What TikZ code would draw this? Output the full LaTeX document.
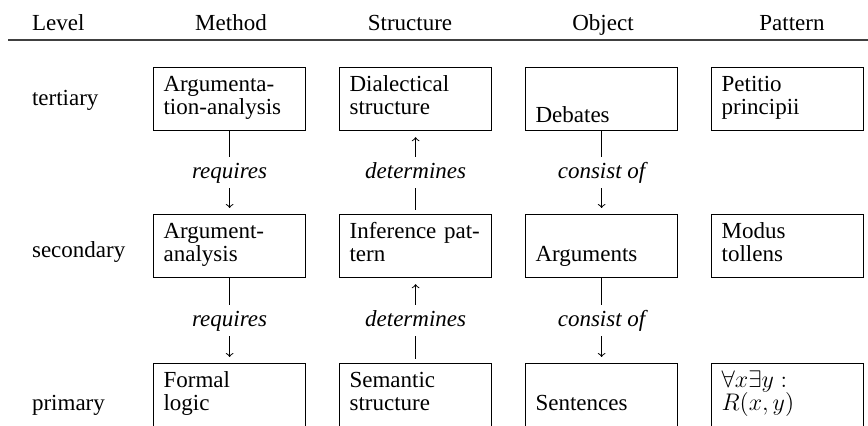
\documentclass[tikz,border=0pt]{standalone}
\usepackage{fontspec}
\setmainfont{Liberation Serif}

\tikzset{
  cell/.style={draw,line width=0.6pt,anchor=north west,inner xsep=5pt,inner ysep=0pt,
    text width=66pt,align=left,text height=12pt,text depth=19.5pt},
  cut/.style={cell,text depth=25pt},
  rel/.style={font=\fontsize{11.5}{11.5}\selectfont\itshape,inner sep=0pt,
    text height=10.5pt,text depth=5pt},
  link/.style={line width=0.5pt}
}

\begin{document}
\begin{tikzpicture}[x=0.5pt,y=-0.5pt,font=\fontsize{11.5}{11.5}\selectfont]
  \clip (0,0) rectangle (868,426);
  % header
  \node[anchor=base west] (hlevel) at (25,31) {Level};
  \node[anchor=base] (hmeth) at (231,31) {Method};
  \node[anchor=base] (hstruc) at (410,31) {Structure};
  \node[anchor=base] (hobj) at (603,31) {Object};
  \node[anchor=base] (hpat) at (792,31) {Pattern};
  \draw[line width=0.8pt,black!75] (8,40) -- (868,40);
  % levels
  \node[anchor=base west] (lev3) at (25,106) {tertiary};
  \node[anchor=base west] (lev2) at (25,258) {secondary};
  \node[anchor=base west] (lev1) at (25,411) {primary};
  % tertiary
  \node[cell] (meth3) at (153,67) {Argumenta-\\tion-analysis};
  \node[cell] (struc3) at (339,67) {Dialectical\\structure};
  \node[cell] (obj3) at (525,67) {\mbox{}\\[4pt]Debates};
  \node[cell] (pat3) at (711,67) {Petitio\\principii};
  % secondary
  \node[cell] (meth2) at (153,214) {Argument-\\analysis};
  \node[cell] (struc2) at (339,214) {Inference pat-\\tern};
  \node[cell] (obj2) at (525,214) {\mbox{}\\Arguments};
  \node[cell] (pat2) at (711,214) {Modus\\tollens};
  % primary
  \node[cut] (meth1) at (153,363) {Formal\\logic};
  \node[cut] (struc1) at (339,363) {Semantic\\structure};
  \node[cut] (obj1) at (525,363) {\mbox{}\\Sentences};
  \node[cut] (pat1) at (711,363) {$\forall x\exists y:$\\$R(x,y)$};
  % relations
  \foreach \u/\l in {3/2,2/1} {
    \path (meth\u.south) -- (meth\l.north) node[midway,rel] (req\u) {requires};
    \draw[link] (meth\u.south) -- (req\u.north);
    \draw[link,->,shorten >=3pt] (req\u.south) -- (meth\l.north);
    \path (struc\u.south) -- (struc\l.north) node[midway,rel] (det\u) {determines};
    \draw[link,shorten <=2pt] (struc\l.north) -- (det\u.south);
    \draw[link,->,shorten >=3pt] (det\u.north) -- (struc\u.south);
    \path (obj\u.south) -- (obj\l.north) node[midway,rel] (cons\u) {consist of};
    \draw[link] (obj\u.south) -- (cons\u.north);
    \draw[link,->,shorten >=3pt] (cons\u.south) -- (obj\l.north);
  }
\end{tikzpicture}
\end{document}
